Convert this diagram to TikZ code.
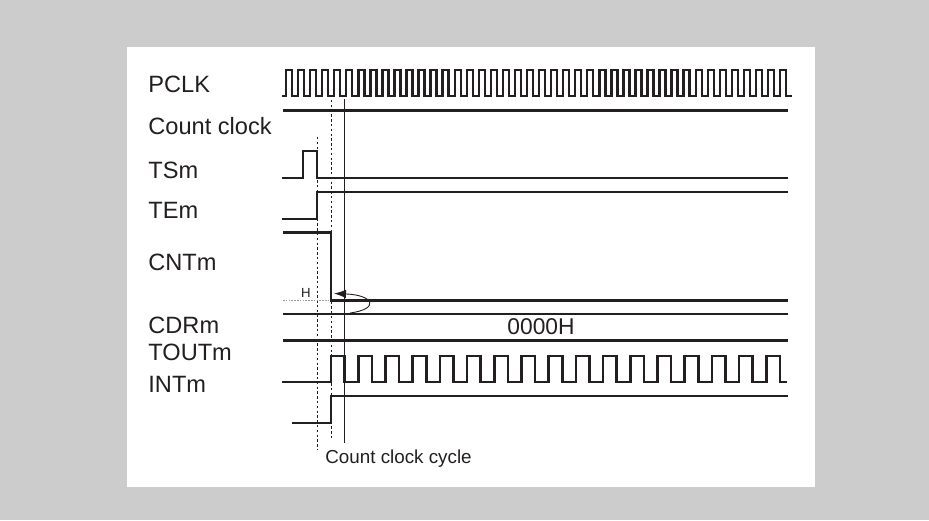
\documentclass[tikz,border=0pt]{standalone}
\usepackage{fontspec}
\setmainfont{Liberation Sans}
\usetikzlibrary{arrows.meta}
\definecolor{ink}{HTML}{231F20}
\definecolor{paper}{HTML}{CCCCCC}
\definecolor{guide}{HTML}{9A9A9A}
\tikzset{
  sig/.style={font=\fontsize{11.8}{14}\selectfont, text=ink, anchor=base west, inner sep=0pt},
  wave/.style={draw=ink, line width=1.3pt, line join=miter},
  clkwave/.style={draw=ink, line width=1.2pt},
  busval/.style={font=\fontsize{11.4}{13}\selectfont, text=ink, inner sep=0pt},
  cycmark/.style={draw=ink, line width=0.5pt, dash pattern=on 1.2pt off 1.2pt},
  cycsolid/.style={draw=ink, line width=0.5pt},
  thresh/.style={draw=guide, line width=0.6pt, dash pattern=on 0.8pt off 0.6pt},
  hmark/.style={font=\fontsize{6.6}{7}\selectfont, text=ink, inner sep=0pt},
  capt/.style={font=\fontsize{9.4}{11}\selectfont, text=ink, anchor=base west, inner sep=0pt},
  reload/.style={-{Latex[length=6pt,width=4.2pt]}, draw=ink, line width=0.45pt},
}
\begin{document}
\begin{tikzpicture}[x=0.5pt,y=-0.5pt]
\useasboundingbox[fill=paper] (0,0) rectangle (929,520);
\fill[white] (127,47) rectangle (815,487);

% signal names
\node[sig] (pclk) at (148,92) {PCLK};
\node[sig] (cclk) at (148,134) {Count clock};
\node[sig] (tsm) at (148,178) {TSm};
\node[sig] (tem) at (148,218) {TEm};
\node[sig] (cntm) at (148,270) {CNTm};
\node[sig] (cdrm) at (148,333) {CDRm};
\node[sig] (toutm) at (148,360) {TOUTm};
\node[sig] (intm) at (148,392) {INTm};

% cycle guides
\draw[cycmark] (317,137) -- (317,450);
\draw[cycmark] (331,100) -- (331,440);
\draw[cycsolid] (344,99) -- (344,443);
\draw[thresh] (283,300.5) -- (331,300.5);

% PCLK
\draw[clkwave] (282,96) -- (286,96)
  \foreach \k in {0,...,41} { -- ++(0,-26) -- ++(6.025,0) -- ++(0,26) -- ++(6.025,0) };
% Count clock
\draw[wave] (283,110.5) -- (788,110.5);
% TSm
\draw[wave] (282,178) -- (303,178) -- (303,151) -- (317,151) -- (317,178) -- (788,178);
% TEm
\draw[wave] (282,219) -- (317,219) -- (317,192) -- (788,192);
% CNTm
\draw[wave] (283,232.5) -- (331,232.5) -- (331,300.5) -- (788,300.5);
% CDRm
\draw[wave] (283,314) -- (788,314);
\draw[wave] (283,340.5) -- (788,340.5);
\node[busval] (cdrval) at (541,327) {0000H};
% TOUTm
\draw[wave] (282,382) -- (331,382)
  \foreach \k in {0,...,15} { -- ++(0,-26) -- ++(13.6,0) -- ++(0,26) -- ++(13.6,0) }
  -- ++(0,-26) -- ++(13.6,0) -- ++(0,26) -- ++(7,0);
% INTm
\draw[wave] (292,423) -- (331,423) -- (331,396) -- (788,396);

% reload arrow
\node[hmark] (hlbl) at (306,292.5) {H};
\coordinate (rfrom) at (350,313);
\coordinate (rto) at (334,293.5);
\draw[reload] (rfrom) .. controls (380,309) and (374,295) .. (rto);

\node[capt] (cyc) at (325,463) {Count clock cycle};
\end{tikzpicture}
\end{document}
